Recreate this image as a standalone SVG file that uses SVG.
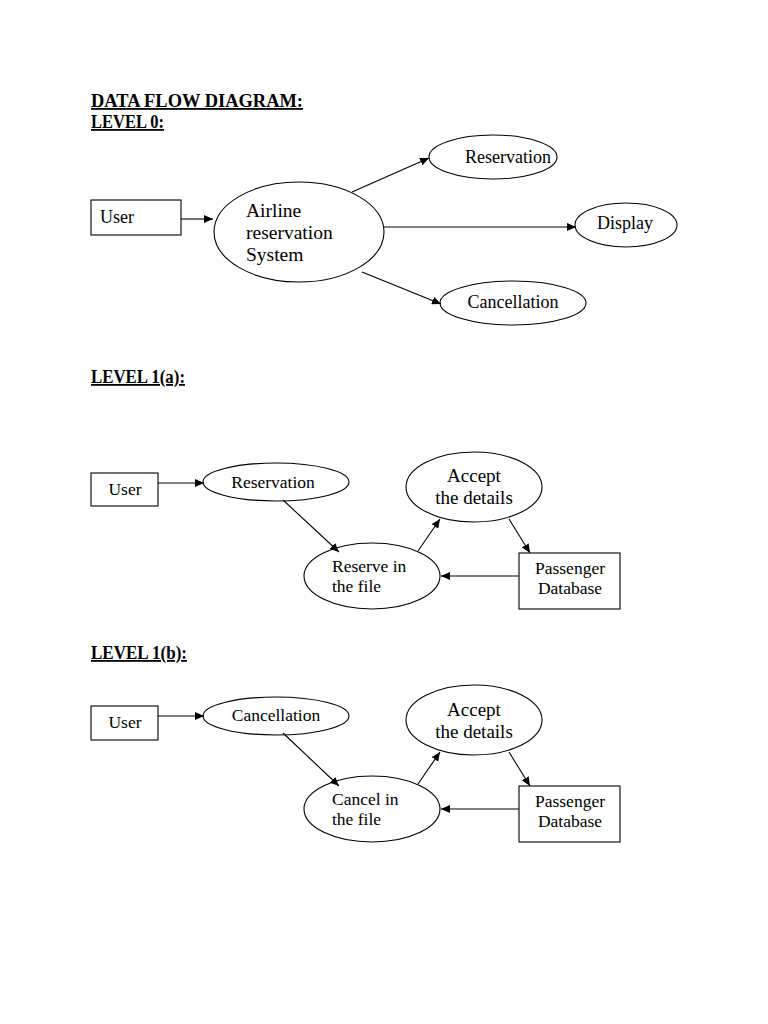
<svg xmlns="http://www.w3.org/2000/svg" width="768" height="1024" viewBox="0 0 768 1024">
<defs>
<marker id="arr" markerWidth="9" markerHeight="8" refX="9" refY="4" orient="auto" markerUnits="userSpaceOnUse">
<path d="M0,0 L9,4 L0,8 Z" fill="#000"/>
</marker>
<style>
.n{fill:#fff;stroke:#000;stroke-width:1.1}
.t{font-family:"Liberation Serif","Times New Roman",serif;fill:#000}
.h{font-family:"Liberation Serif","Times New Roman",serif;font-weight:bold;font-size:18px;text-decoration:underline;fill:#000}
.c line{stroke:#000;stroke-width:1.1;marker-end:url(#arr)}
.l0{font-size:18px}
.l1{font-size:17.5px}
.ac{font-size:19px}
</style>
</defs>
<rect width="768" height="1024" fill="#fff"/>

<text class="h" x="91" y="107" textLength="212" lengthAdjust="spacingAndGlyphs">DATA FLOW DIAGRAM:</text>
<text class="h" x="91" y="128" textLength="73" lengthAdjust="spacingAndGlyphs">LEVEL 0:</text>
<text class="h" x="91" y="383" textLength="94" lengthAdjust="spacingAndGlyphs">LEVEL 1(a):</text>
<text class="h" x="91" y="659" textLength="96" lengthAdjust="spacingAndGlyphs">LEVEL 1(b):</text>

<!-- Level 0 -->
<g id="l0-user"><rect class="n" x="91" y="200" width="90" height="35"/><text class="t l0" x="100" y="223">User</text></g>
<g id="l0-system"><ellipse class="n" cx="299" cy="232" rx="85" ry="50"/>
<text class="t" font-size="19.5" x="246" y="217">Airline</text>
<text class="t" font-size="19.5" x="246" y="239">reservation</text>
<text class="t" font-size="19.5" x="246" y="261">System</text></g>
<g id="l0-reservation"><ellipse class="n" cx="493" cy="157" rx="64" ry="22"/><text class="t l0" x="508" y="163" text-anchor="middle">Reservation</text></g>
<g id="l0-display"><ellipse class="n" cx="626" cy="225" rx="51" ry="22"/><text class="t l0" x="625" y="229" text-anchor="middle">Display</text></g>
<g id="l0-cancellation"><ellipse class="n" cx="513" cy="303" rx="73" ry="22"/><text class="t l0" x="513" y="308" text-anchor="middle">Cancellation</text></g>

<!-- Level 1a -->
<g id="l1a-user"><rect class="n" x="91" y="473" width="67" height="33"/><text class="t l1" x="125" y="495" text-anchor="middle">User</text></g>
<g id="l1a-reservation"><ellipse class="n" cx="276" cy="482" rx="73" ry="19"/><text class="t l1" x="273" y="488" text-anchor="middle">Reservation</text></g>
<g id="l1a-reserve"><ellipse class="n" cx="372" cy="576" rx="68" ry="33"/><text class="t l1" x="332" y="572">Reserve in</text><text class="t l1" x="332" y="592">the file</text></g>
<g id="l1a-accept"><ellipse class="n" cx="474" cy="487" rx="68" ry="35"/><text class="t ac" x="474" y="482" text-anchor="middle">Accept</text><text class="t ac" x="474" y="504" text-anchor="middle">the details</text></g>
<g id="l1a-db"><rect class="n" x="519" y="553" width="101" height="56"/><text class="t l1" x="570" y="574" text-anchor="middle">Passenger</text><text class="t l1" x="570" y="594" text-anchor="middle">Database</text></g>

<!-- Level 1b -->
<g id="l1b-user"><rect class="n" x="91" y="706" width="67" height="34"/><text class="t l1" x="125" y="728" text-anchor="middle">User</text></g>
<g id="l1b-cancellation"><ellipse class="n" cx="276" cy="716" rx="73" ry="19"/><text class="t l1" x="276" y="721" text-anchor="middle">Cancellation</text></g>
<g id="l1b-cancel"><ellipse class="n" cx="372" cy="809" rx="68" ry="33"/><text class="t l1" x="332" y="805">Cancel in</text><text class="t l1" x="332" y="825">the file</text></g>
<g id="l1b-accept"><ellipse class="n" cx="474" cy="720" rx="68" ry="35"/><text class="t ac" x="474" y="716" text-anchor="middle">Accept</text><text class="t ac" x="474" y="738" text-anchor="middle">the details</text></g>
<g id="l1b-db"><rect class="n" x="519" y="786" width="101" height="56"/><text class="t l1" x="570" y="807" text-anchor="middle">Passenger</text><text class="t l1" x="570" y="827" text-anchor="middle">Database</text></g>

<g id="connectors" class="c">
<line x1="181" y1="219" x2="213" y2="219"/>
<line x1="352" y1="192" x2="429" y2="158"/>
<line x1="384" y1="227" x2="576" y2="227"/>
<line x1="362" y1="272" x2="441" y2="304"/>

<line x1="158" y1="483" x2="204" y2="483"/>
<line x1="283" y1="500" x2="339" y2="552"/>
<line x1="418" y1="551" x2="440" y2="519"/>
<line x1="509" y1="519" x2="530" y2="553"/>
<line x1="519" y1="576" x2="441" y2="576"/>

<line x1="158" y1="716" x2="204" y2="716"/>
<line x1="283" y1="733" x2="339" y2="786"/>
<line x1="418" y1="784" x2="440" y2="752"/>
<line x1="509" y1="752" x2="530" y2="786"/>
<line x1="519" y1="809" x2="441" y2="809"/>
</g>
</svg>
